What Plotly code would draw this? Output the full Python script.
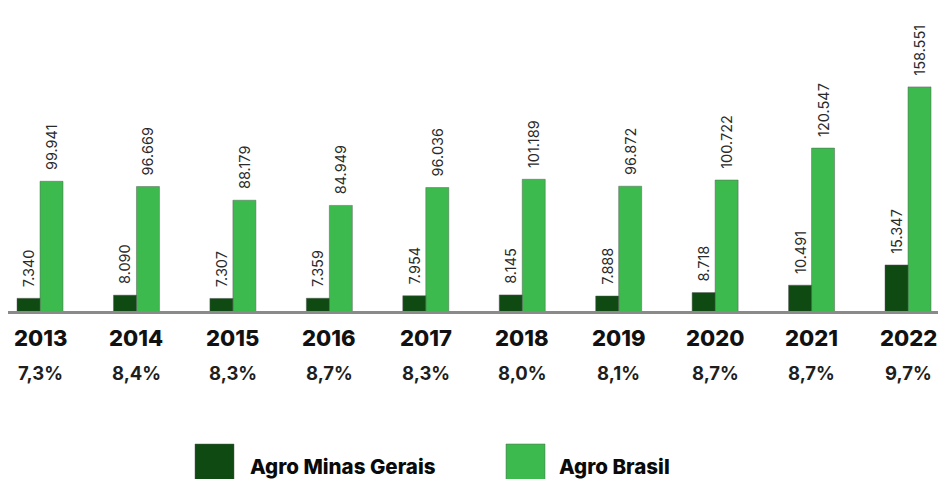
import plotly.graph_objects as go

years = ["2013", "2014", "2015", "2016", "2017", "2018", "2019", "2020", "2021", "2022"]
agro_mg = [7.340, 8.090, 7.307, 7.359, 7.954, 8.145, 7.888, 8.718, 10.491, 15.347]
agro_br = [99.941, 96.669, 88.179, 84.949, 96.036, 101.189, 96.872, 100.722, 120.547, 158.551]
share = ["7,3%", "8,4%", "8,3%", "8,7%", "8,3%", "8,0%", "8,1%", "8,7%", "8,7%", "9,7%"]
series_names = ["Agro Minas Gerais", "Agro Brasil"]
colors = ["#0E4A12", "#3DBA4E"]

W, H = 938, 479
ML, MR, MT, MB = 8, 0, 0, 168
PW, PH = W - ML - MR, H - MT - MB


def xp(px):
    return (px - ML) / PW


def yp(py):
    return (H - MB - py) / PH


FONT = "Inter, Roboto, Arial, sans-serif"
LBL = dict(family=FONT, size=14.5, color="#2a2a2a")

fig = go.Figure()
fig.add_trace(go.Bar(
    x=years, y=agro_mg, name=series_names[0], yaxis="y2", offsetgroup="mg",
    marker=dict(color=colors[0], line=dict(color="rgba(90,90,90,0.6)", width=0.8)),
    texttemplate="\u00a0\u00a0%{y:.3f}", textposition="outside", textangle=-90,
    constraintext="none", cliponaxis=False, textfont=LBL, showlegend=False,
))
fig.add_trace(go.Bar(
    x=years, y=agro_br, name=series_names[1], yaxis="y", offsetgroup="br",
    marker=dict(color=colors[1], line=dict(color="rgba(90,90,90,0.6)", width=0.8)),
    texttemplate="\u00a0\u00a0%{y:.3f}", textposition="outside", textangle=-90,
    constraintext="none", cliponaxis=False, textfont=LBL, showlegend=False,
))

annotations = []
for i, (yr, s) in enumerate(zip(years, share)):
    annotations.append(dict(x=i, xref="x", y=yp(338), yref="paper", text=yr,
                            showarrow=False, yanchor="middle", xanchor="center",
                            font=dict(family=FONT, size=22, color="#111111", weight=800)))
    annotations.append(dict(x=i, xref="x", y=yp(373), yref="paper", text=s,
                            showarrow=False, yanchor="middle", xanchor="center",
                            font=dict(family=FONT, size=18.5, color="#1e1e1e", weight=700)))

shapes = []
legend_sq = [195, 506]
legend_tx = [248, 557]
for name, col, sx, tx in zip(series_names, colors, legend_sq, legend_tx):
    shapes.append(dict(type="rect", xref="paper", yref="paper",
                       x0=xp(sx), x1=xp(sx + 39), y0=yp(444), y1=yp(484),
                       fillcolor=col, line=dict(color="rgba(90,90,90,0.6)", width=0.8)))
    annotations.append(dict(x=xp(tx), xref="paper", y=yp(466), yref="paper",
                            text=name, showarrow=False,
                            xanchor="left", yanchor="middle",
                            font=dict(family=FONT, size=20.5, color="#0a0a0a", weight=800)))

fig.update_layout(
    width=W, height=H,
    margin=dict(l=ML, r=MR, t=MT, b=MB),
    paper_bgcolor="white", plot_bgcolor="white",
    barmode="group", bargap=0.523, bargroupgap=0,
    xaxis=dict(type="category", range=[-0.332, 9.311], showticklabels=False,
               showgrid=False, zeroline=False, showline=True,
               linecolor="#8a8a8a", linewidth=3, ticks=""),
    yaxis=dict(range=[19.4, 212.5], visible=False, showgrid=False, zeroline=False),
    yaxis2=dict(range=[4.29, 78.95], overlaying="y", side="right", visible=False,
                showgrid=False, zeroline=False),
    annotations=annotations,
    shapes=shapes,
    showlegend=False,
    font=dict(family=FONT),
)

fig.write_html("out.html", config={"displayModeBar": False},
               post_script="document.body.style.margin='0';document.body.style.overflow='hidden';")
